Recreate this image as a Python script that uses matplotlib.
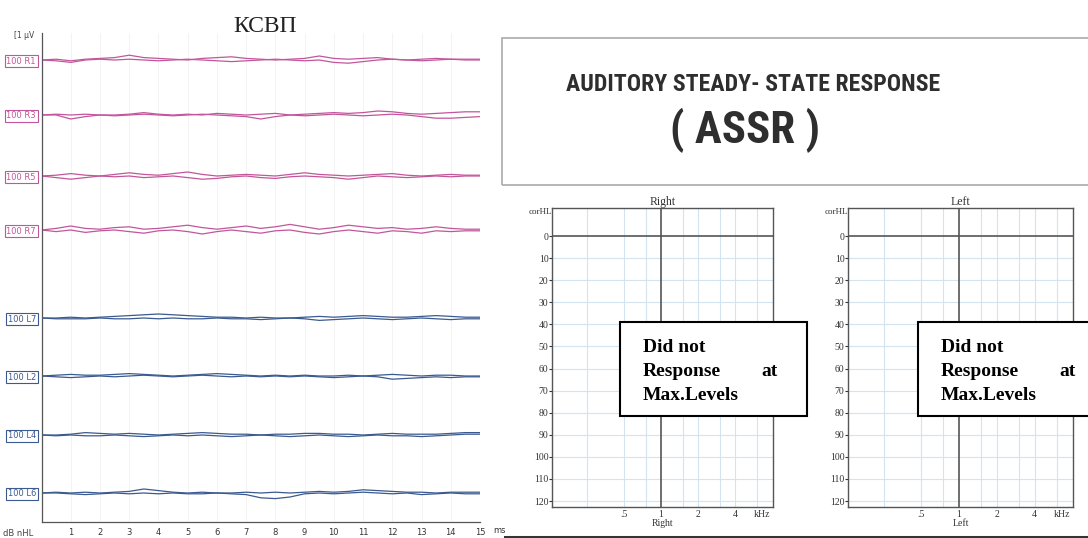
import matplotlib
matplotlib.use("Agg")
import matplotlib.pyplot as plt
from matplotlib.patches import Rectangle
from matplotlib.lines import Line2D
from matplotlib import font_manager as fm
import matplotlib.transforms as mtransforms

# ---- data ------------------------------------------------------------
time_ms = [i * 0.5 for i in range(31)]          # 0 .. 15 ms sampling
row_labels = ["100 R1", "100 R3", "100 R5", "100 R7",
              "100 L7", "100 L2", "100 L4", "100 L6"]

# two overlaid sweeps per row (small deflections, arbitrary units)
R1_a = [0, 0.5, -0.5, 0.5, 1, 1.5, 3, 1.5, 1, 0.5, 0, 1, 1.5, 2, 1, 0.5, 0, 0.5, 1, 2.5, 1, 0.5, 1, 1.5, 0.5, 0, 0.5, 1, 0.5, 0.5, 0.5]
R1_b = [0, -0.5, -1.5, 0, 0.5, 0, 0.5, 0, -0.5, 0, 0.5, 0, -0.5, -1, -0.5, 0, 0.5, 0, -0.5, 0, -1.5, -2, -1, 0, 0.5, 0, -0.5, 0, 0.5, 0, 0]
R3_a = [0, 0.5, 0, 0.5, 0, 0, 0.5, 1.5, 0.5, 0, 0.5, 0, 1, 0.5, 0, 0.5, 1, 0, 0.5, 1, 1.5, 1, 1.5, 2.5, 2, 1, 0.5, 1, 1.5, 2, 2]
R3_b = [0, 0, -2.5, -1, 0, -0.5, 0, 0.5, 0, -0.5, 0, 0.5, 0, -0.5, -1, -2.5, -1, 0, -0.5, 0, 0.5, 0, -0.5, 0, 0.5, 0, -1, -2, -2, -1.5, -1]
R5_a = [0, 0.5, 1.5, 0.5, 0, 1, 2, 1, 0.5, 1.5, 2.5, 1, 0, 0.5, 1, 0.5, 0, 1, 2, 1, 0.5, 0, 0.5, 1, 1.5, 0.5, 0, 0.5, 1, 0.5, 0.5]
R5_b = [0, -1, -2, -1, 0, -0.5, 0, -1, -0.5, 0, -1, -2, -1.5, -0.5, 0, -1, -1.5, -0.5, 0, -0.5, -1, -2, -1, 0, -0.5, -1, -0.5, 0, -0.5, 0, 0]
R7_a = [0, 1, 2.5, 1, 0.5, 1.5, 2, 0.5, 1, 2, 3, 1.5, 0.5, 1.5, 2.5, 1, 2, 3.5, 2, 0.5, 1.5, 3, 2, 1, 1.5, 0.5, 1, 2, 1, 0.5, 0.5]
R7_b = [0, -1, 0, -1.5, -0.5, 0, -1, -2, -0.5, 0, -1, -2.5, -1, 0, -1, -2, -0.5, 0, -1.5, -2.5, -1, 0, -1, -2, -0.5, -1, -2, -0.5, -1, -0.5, -0.5]
L7_a = [0, 0, 0.5, 0, 0.5, 1, 1.5, 2, 2.5, 2, 1.5, 1, 0.5, 0.5, 0, 0.5, 0, 0, 0.5, 1, 0.5, 1, 1.5, 1, 0.5, 0.5, 1, 1.5, 1, 0.5, 0.5]
L7_b = [0, -0.5, -0.5, -0.5, 0, -0.5, -0.5, 0, -0.5, 0, -0.5, -0.5, 0, -0.5, -0.5, -1, -0.5, 0, -0.5, -1.5, -1, -0.5, 0, -0.5, -1, -0.5, 0, -0.5, -1, -0.5, -0.5]
L2_a = [0, 0.5, 1, 0.5, 0.5, 1, 1.5, 1, 0.5, 0, 0.5, 1, 1.5, 1, 0.5, 0, 0.5, 0, 0.5, 0, 0, 0.5, 0, 0.5, 1, 0.5, 0, 0.5, 0.5, 0, 0]
L2_b = [0, -0.5, -1, -0.5, 0, -0.5, 0, 0.5, 0, -0.5, 0, 0.5, 0, -0.5, 0, -0.5, 0, -0.5, 0, -0.5, -1, -0.5, 0, -0.5, -2, -1.5, -1, -0.5, -1, -0.5, -0.5]
L4_a = [0, 0, 0.5, 1.5, 1, 0.5, 1, 0.5, 0, 0.5, 1, 1.5, 1, 0.5, 0.5, 0, 0.5, 0.5, 1, 1, 0.5, 0.5, 0, 0.5, 1, 0.5, 0.5, 0.5, 1, 1.5, 1.5]
L4_b = [0, -0.5, 0, -0.5, -0.5, 0, -0.5, -1, -0.5, 0, -0.5, 0, -0.5, -1, -0.5, 0, -0.5, -1, -0.5, 0, -0.5, -1, -0.5, 0, -0.5, -0.5, -1, -0.5, 0, 0.5, 0.5]
L6_a = [0, 0.5, 0, 0.5, 0, 0.5, 1, 2.5, 1.5, 0.5, 0, 0.5, 0, 0, 0.5, 0, 0.5, 0, 0.5, 1, 0.5, 1, 2, 1.5, 1, 0.5, 0.5, 0, 0.5, 0.5, 0.5]
L6_b = [0, 0, -0.5, -1, -0.5, 0, -0.5, 0, -0.5, 0, -0.5, -0.5, 0, -0.5, -1, -3, -3.5, -2.5, -0.5, 0, -0.5, 0, 0.5, 0, -0.5, 0, -1, -0.5, 0, -0.5, -0.5]

traces = [(R1_a, R1_b), (R3_a, R3_b), (R5_a, R5_b), (R7_a, R7_b),
          (L7_a, L7_b), (L2_a, L2_b), (L4_a, L4_b), (L6_a, L6_b)]

# audiogram axes
hl_ticks = [0, 10, 20, 30, 40, 50, 60, 70, 80, 90, 100, 110, 120]
freq_ticks = [0.5, 1, 2, 4]
freq_labels = [".5", "1", "2", "4"]
freq_grid = [0.25, 0.5, 0.75, 1.5, 2, 3, 4, 6]

# ---- layout ----------------------------------------------------------
W, H = 1088, 538
row_pos = [-27, -82, -143, -197, -285, -343, -402, -460]
gain = 1.6
pink = "#c2569b"
blue = "#3b5a8f"
row_cols = [pink] * 4 + [blue] * 4

fig = plt.figure(figsize=(W / 100, H / 100), dpi=100)


def px_axes(x0, y0, x1, y1):
    return fig.add_axes([x0 / W, 1 - y1 / H, (x1 - x0) / W, (y1 - y0) / H])


def px_fig(x, y):
    return x / W, 1 - y / H


# ---- left panel: ABR traces -----------------------------------------
ax = px_axes(41.5, 33, 480, 522)
for (a, b), off, c in zip(traces, row_pos, row_cols):
    ax.plot(time_ms, [v * gain + off for v in a], color=c, lw=0.9)
    ax.plot(time_ms, [v * gain + off for v in b], color=c, lw=0.9)

ax.set_xlim(0, 15)
ax.set_ylim(-489, 0)
ax.set_xticks(range(1, 16))
ax.set_xticklabels([str(i) for i in range(1, 16)])
ax.set_yticks(row_pos)
ax.set_yticklabels(row_labels)
ax.tick_params(length=0, labelsize=6, colors="#333333")
ax.tick_params(axis="x", pad=4)
ax.tick_params(axis="y", pad=4)
for lab, c in zip(ax.get_yticklabels(), row_cols):
    lab.set_color(c)
    lab.set_bbox(dict(boxstyle="square,pad=0.2", fc="white", ec=c, lw=0.8))
for s in ["top", "right"]:
    ax.spines[s].set_visible(False)
for s in ["left", "bottom"]:
    ax.spines[s].set_color("#555555")
    ax.spines[s].set_linewidth(0.9)
ax.grid(axis="x", color="#f1f1f1", lw=0.6)

trans = mtransforms.blended_transform_factory(ax.transData, ax.transAxes)
ax.text(15.45, -0.017, "ms", transform=trans, fontsize=6, color="#333333",
        ha="left", va="center")
fig.text(*px_fig(24, 36), "[1 \u00b5V", fontsize=5.5, color="#444444",
         ha="center", va="center")
fig.text(*px_fig(18, 533), "dB nHL", fontsize=6, color="#444444",
         ha="center", va="center")
fig.text(*px_fig(265, 27), "\u041a\u0421\u0412\u041f", fontsize=17,
         family=["Liberation Serif", "DejaVu Serif"], color="#222222",
         ha="center", va="center")

# ---- top right: heading box -----------------------------------------
x0, y0 = px_fig(502, 185)
x1, y1 = px_fig(1095, 38)
fig.add_artist(Rectangle((x0, y0), x1 - x0, y1 - y0, transform=fig.transFigure,
                         fc="none", ec="#aaaaaa", lw=1.2, clip_on=False))

# prefer a narrow bold sans if one is installed
narrow_prop = fm.FontProperties(family="Liberation Sans", weight="bold")
files = {f.fname.lower().replace("\\", "/").split("/")[-1]: f.fname
         for f in fm.fontManager.ttflist}
for key in ["liberationsansnarrow-bold.ttf", "arialnb.ttf",
            "robotocondensed-bold.ttf", "notosans-condensedbold.ttf",
            "opensans-condensedbold.ttf", "dejavusanscondensed-bold.ttf"]:
    if key in files:
        narrow_prop = fm.FontProperties(fname=files[key])
        break

t1 = fig.text(*px_fig(753, 84), "AUDITORY STEADY- STATE RESPONSE",
              fontproperties=narrow_prop, color="#2e2e2e",
              ha="center", va="center")
t2 = fig.text(*px_fig(745, 130), "( ASSR )", fontproperties=narrow_prop,
              color="#2e2e2e", ha="center", va="center")
renderer = fig.canvas.get_renderer()
for t, size, target in [(t1, 17, 375), (t2, 32, 150)]:
    t.set_fontsize(size)
    w = t.get_window_extent(renderer).width
    t.set_fontsize(min(size * 1.15, size * target / w))

# ---- audiograms ------------------------------------------------------
serif = ["Liberation Serif", "DejaVu Serif"]


def audiogram(ax, title):
    ax.set_xscale("log")
    ax.set_xlim(0.13, 8.1)
    ax.set_ylim(122.7, -12.7)
    for f in freq_grid:
        ax.axvline(f, color="#d3e3f0", lw=0.8, zorder=0)
    for h in hl_ticks[1:]:
        ax.axhline(h, color="#d3e3f0", lw=0.8, zorder=0)
    ax.axhline(0, color="#555555", lw=1.2)
    ax.axvline(1, color="#555555", lw=1.2)
    ax.set_xticks(freq_ticks + [6.6])
    ax.set_xticklabels(freq_labels + ["kHz"])
    ax.xaxis.set_minor_locator(matplotlib.ticker.NullLocator())
    ax.set_yticks(hl_ticks)
    ax.set_yticklabels([str(h) for h in hl_ticks])
    ax.tick_params(axis="x", length=0, pad=2, labelsize=7, colors="#333333")
    ax.tick_params(axis="y", length=2, pad=0.5, labelsize=7, colors="#333333")
    for lab in ax.get_xticklabels() + ax.get_yticklabels():
        lab.set_family(serif)
    for s in ax.spines.values():
        s.set_color("#555555")
        s.set_linewidth(1.0)
    ax.set_title(title, fontsize=8.5, family=serif, color="#333333", pad=1)
    ax.set_xlabel(title, fontsize=7, family=serif, color="#333333", labelpad=0)
    ax.text(0, -11, "corHL", transform=mtransforms.blended_transform_factory(
        ax.transAxes, ax.transData), fontsize=6.5, family=serif, color="#333333",
        ha="right", va="center")


ax_r = px_axes(552, 208, 773, 507)
audiogram(ax_r, "Right")
ax_l = px_axes(848, 208, 1073, 507)
audiogram(ax_l, "Left")

# "Did not Response at Max.Levels" boxes
for bx in [620, 918]:
    x0, y0 = px_fig(bx, 416)
    x1, y1 = px_fig(bx + 187, 322)
    fig.add_artist(Rectangle((x0, y0), x1 - x0, y1 - y0,
                             transform=fig.transFigure, fc="white", ec="black",
                             lw=1.5, clip_on=False, zorder=5))
    kw = dict(fontsize=14, family=serif, weight="bold", color="black",
              va="center", zorder=6)
    fig.text(*px_fig(bx + 23, 347), "Did not", ha="left", **kw)
    fig.text(*px_fig(bx + 23, 371), "Response", ha="left", **kw)
    fig.text(*px_fig(bx + 158, 371), "at", ha="right", **kw)
    fig.text(*px_fig(bx + 23, 395), "Max.Levels", ha="left", **kw)

# dark edge along the bottom of the right half
fig.add_artist(Line2D([505 / W, 1.0], [1 - 536.5 / H] * 2,
                      transform=fig.transFigure, color="#333333", lw=2.2))

fig.savefig("out.png", dpi=100)
